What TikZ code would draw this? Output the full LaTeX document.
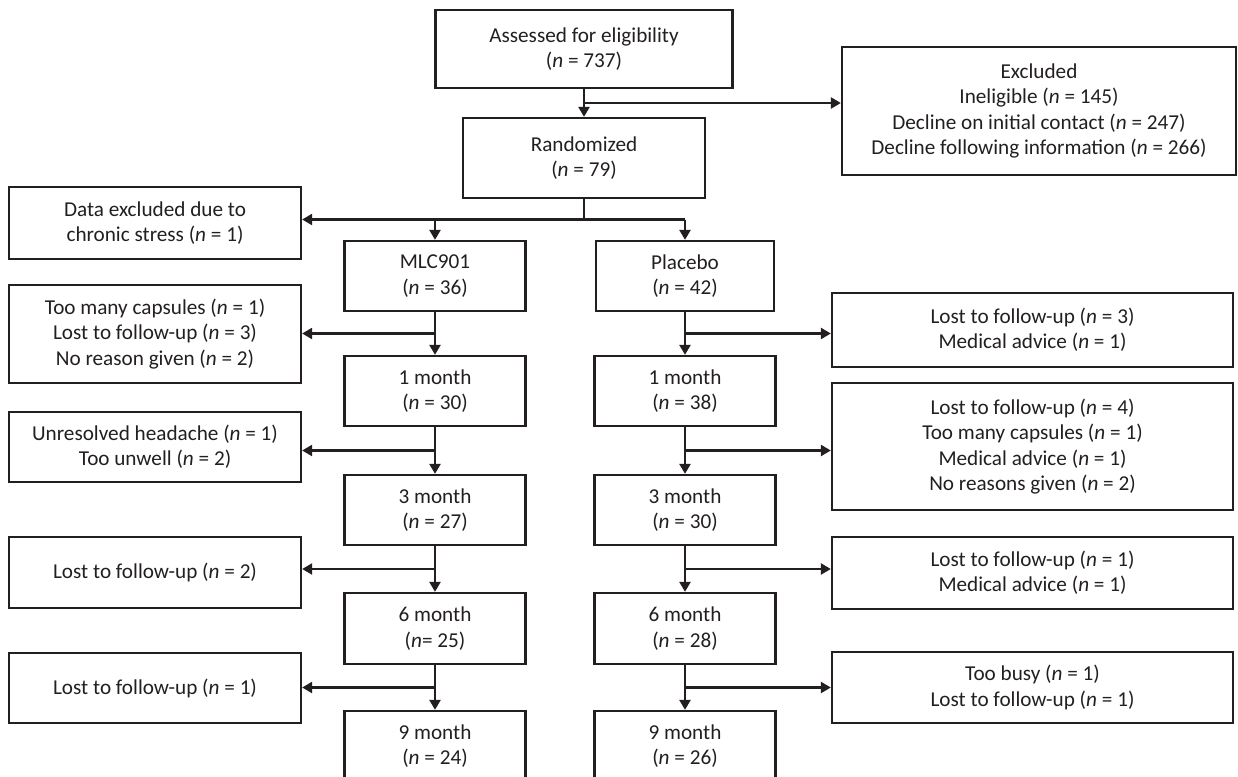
\documentclass[tikz,border=0pt]{standalone}
\usepackage{fontspec}
\setmainfont{Carlito}
\usepackage{xcolor}
\usepackage{tikz}
\usetikzlibrary{calc,arrows.meta}
\definecolor{inkGray}{HTML}{231F20}

\begin{document}
\begin{tikzpicture}[x=0.5pt, y=-0.5pt,
    font=\fontsize{10.6}{12.65}\selectfont,
    box/.style={draw=inkGray, line width=1.15pt, text=inkGray, align=center, inner sep=0pt},
    flow/.style={draw=inkGray, line width=1.15pt, -{Triangle[length=5pt,width=5.5pt]}},
    link/.style={draw=inkGray, line width=1.15pt}]
                \useasboundingbox (0,0) rectangle (1238,777);
                \clip (0,0) rectangle (1238,777);
                % top of the chart
                \node[box, minimum width=148.5pt, minimum height=39pt] (assess) at (584,49) {Assessed for eligibility\\(\textit{n} = 737)};
                \node[box, minimum width=197pt, minimum height=64pt] (excl) at (1039,111) {Excluded\\Ineligible (\textit{n} = 145)\\Decline on initial contact (\textit{n} = 247)\\Decline following information (\textit{n} = 266)};
                \node[box, minimum width=121pt, minimum height=40pt] (rand) at (584,158) {Randomized\\(\textit{n} = 79)};
                \node[box, minimum width=146pt, minimum height=36pt] (dataex) at (155,223) {Data excluded due to\\chronic stress (\textit{n} = 1)};
                % MLC901 arm
                \node[box, minimum width=90.5pt, minimum height=35pt] (mlc) at (435,276) {MLC901\\(\textit{n} = 36)};
                \node[box, minimum width=90.5pt, minimum height=35pt] (m1) at (435,391) {1 month\\(\textit{n} = 30)};
                \node[box, minimum width=90.5pt, minimum height=35pt] (m3) at (435,510) {3 month\\(\textit{n} = 27)};
                \node[box, minimum width=90.5pt, minimum height=35.5pt] (m6) at (435,628.5) {6 month\\(\textit{n}= 25)};
                \node[box, minimum width=90.5pt, minimum height=35pt] (m9) at (435,746) {9 month\\(\textit{n} = 24)};
                % placebo arm
                \node[box, minimum width=89pt, minimum height=35pt] (plac) at (685,276) {Placebo\\(\textit{n} = 42)};
                \node[box, minimum width=90.5pt, minimum height=35pt] (p1) at (685,391) {1 month\\(\textit{n} = 38)};
                \node[box, minimum width=90.5pt, minimum height=35pt] (p3) at (685,510) {3 month\\(\textit{n} = 30)};
                \node[box, minimum width=90.5pt, minimum height=35.5pt] (p6) at (685,628.5) {6 month\\(\textit{n} = 28)};
                \node[box, minimum width=90.5pt, minimum height=35pt] (p9) at (685,746) {9 month\\(\textit{n} = 26)};
                % drop-outs, left
                \node[box, minimum width=146pt, minimum height=49pt] (lcap) at (155,334) {Too many capsules (\textit{n} = 1)\\Lost to follow-up (\textit{n} = 3)\\No reason given (\textit{n} = 2)};
                \node[box, minimum width=146pt, minimum height=35pt] (lhead) at (155,447) {Unresolved headache (\textit{n} = 1)\\Too unwell (\textit{n} = 2)};
                \node[box, minimum width=146pt, minimum height=35.5pt] (llost2) at (155,572.5) {Lost to follow-up (\textit{n} = 2)};
                \node[box, minimum width=146pt, minimum height=35pt] (llost1) at (155,688) {Lost to follow-up (\textit{n} = 1)};
                % drop-outs, right
                \node[box, minimum width=200.5pt, minimum height=37pt] (rlost3) at (1032.5,330) {Lost to follow-up (\textit{n} = 3)\\Medical advice (\textit{n} = 1)};
                \node[box, minimum width=200.5pt, minimum height=63.5pt] (rlost4) at (1032.5,446.5) {Lost to follow-up (\textit{n} = 4)\\Too many capsules (\textit{n} = 1)\\Medical advice (\textit{n} = 1)\\No reasons given (\textit{n} = 2)};
                \node[box, minimum width=200.5pt, minimum height=36pt] (rlost1) at (1032.5,573) {Lost to follow-up (\textit{n} = 1)\\Medical advice (\textit{n} = 1)};
                \node[box, minimum width=200.5pt, minimum height=35.5pt] (rbusy) at (1032.5,687.5) {Too busy (\textit{n} = 1)\\Lost to follow-up (\textit{n} = 1)};
                % connectors
                \coordinate (ja) at ($(assess.south)!.5!(rand.north)$);
                \draw[flow] (assess) -- (rand);
                \draw[flow] (ja) -- (ja -| excl.west);
                \coordinate (jb) at ($(rand.south)!.5!(rand.south |- mlc.north)$);
                \draw[link] (rand) -- (jb);
                \draw[flow] (jb -| plac) -- (jb -| dataex.east);
                \draw[flow] (jb -| mlc) -- (mlc);
                \draw[flow] (jb -| plac) -- (plac);
                \foreach \a/\b/\s in {mlc/m1/lcap, m1/m3/lhead, m3/m6/llost2, m6/m9/llost1} {
                    \draw[flow] (\a) -- (\b);
                    \coordinate (j) at ($(\a.south)!.5!(\b.north)$);
                    \draw[flow] (j) -- (j -| \s.east);
                }
                \foreach \a/\b/\s in {plac/p1/rlost3, p1/p3/rlost4, p3/p6/rlost1, p6/p9/rbusy} {
                    \draw[flow] (\a) -- (\b);
                    \coordinate (j) at ($(\a.south)!.5!(\b.north)$);
                    \draw[flow] (j) -- (j -| \s.west);
                }
            \end{tikzpicture}
\end{document}
